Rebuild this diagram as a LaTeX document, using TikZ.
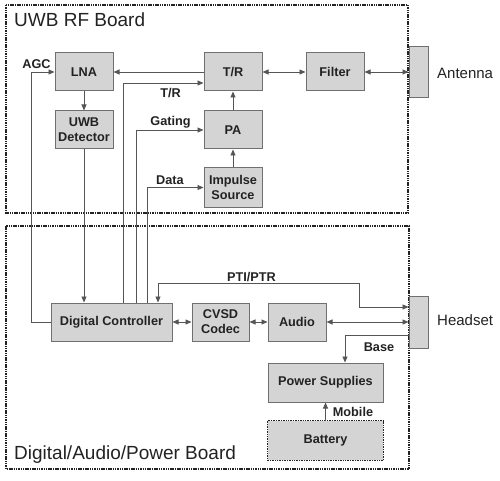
\documentclass[tikz,border=0pt]{standalone}
\usepackage{fontspec}
\setmainfont{Liberation Sans}
\usetikzlibrary{arrows.meta}

\definecolor{cFill}{RGB}{212, 212, 212}
\definecolor{cEdge}{RGB}{112, 112, 112}
\definecolor{cLine}{RGB}{85, 85, 85}
\definecolor{cText}{RGB}{34, 34, 34}

\tikzset{
  blk/.style={draw=cEdge, fill=cFill, line width=1pt, align=center,
    text=cText, font=\fontsize{12.7}{15}\selectfont\bfseries,
    minimum width=58pt, minimum height=38pt, inner sep=1pt},
  lbl/.style={text=cText, font=\fontsize{12.7}{15}\selectfont\bfseries, inner sep=0pt},
  title/.style={text=cText, font=\fontsize{19}{22}\selectfont, inner sep=0pt},
  side/.style={text=cText, font=\fontsize{15}{18}\selectfont, inner sep=0pt},
  board/.style={draw=cText, line width=1.3pt, dash pattern=on 1.5pt off 0.8pt},
  arr/.style={draw=cLine, line width=0.9pt, -{Triangle[length=6pt, width=5pt]}},
  dbl/.style={draw=cLine, line width=0.9pt, {Triangle[length=6pt, width=5pt]}-{Triangle[length=6pt, width=5pt]}},
  wire/.style={draw=cLine, line width=0.9pt}
}

\begin{document}
\begin{tikzpicture}[x=1pt, y=-1pt, line join=miter]
  \useasboundingbox (0,0) rectangle (500,481);

  % boards
  \draw[board] (6,5) rectangle (408,213);
  \draw[board] (6,226) rectangle (409,469);
  \node[title, anchor=base west] (rfTitle) at (14,27) {UWB RF Board};
  \node[title, anchor=base west] (dapTitle) at (14,459) {Digital/Audio/Power Board};

  % RF board blocks
  \node[blk] (LNA) at (84,72) {LNA};
  \node[blk] (Det) at (84,130) {UWB\\Detector};
  \node[blk] (TR) at (233,72) {T/R};
  \node[blk] (PA) at (233,130) {PA};
  \node[blk, minimum height=39pt] (Imp) at (233,187.5) {Impulse\\Source};
  \node[blk] (Filter) at (335,72) {Filter};
  \node[blk, minimum width=19pt, minimum height=51pt] (Ant) at (418.5,72.5) {};
  \node[side, anchor=west] (antTxt) at (437,73) {Antenna};

  % digital/audio/power board blocks
  \node[blk, minimum width=121pt] (DC) at (111.5,322) {Digital Controller};
  \node[blk, minimum width=57pt] (CVSD) at (220.5,322) {CVSD\\Codec};
  \node[blk] (Audio) at (297,322) {Audio};
  \node[blk, minimum width=19pt, minimum height=52pt] (Head) at (418.5,322) {};
  \node[side, anchor=west] (headTxt) at (437,320) {Headset};
  \node[blk, minimum width=115pt, minimum height=39pt] (PS) at (325.5,382.5) {Power Supplies};
  \node[blk, minimum width=115pt, minimum height=39pt, draw=none] (Bat) at (325.5,440.5) {Battery};
  \draw[board, line width=1.1pt, dash pattern=on 1pt off 0.7pt] (Bat.north west) rectangle (Bat.south east);

  % RF connections
  \draw[arr] (TR.west) -- (LNA.east);
  \draw[dbl] (TR.east) -- (Filter.west);
  \draw[dbl] (Filter.east) -- (Ant.west |- Filter.east);
  \draw[arr] (PA.north) -- (TR.south);
  \draw[arr] (Imp.north) -- (PA.south);
  \draw[arr] (LNA.south) -- (Det.north);
  \draw[arr] (Det.south) -- (Det.south |- DC.north);

  % control lines
  \draw[arr] (DC.west) -- ++(-19,0) |- (LNA.west);
  \draw[arr] ([xshift=11.5pt]DC.north) |- ([yshift=-11pt]TR.west);
  \draw[arr] ([xshift=24.5pt]DC.north) |- (PA.west);
  \draw[arr] ([xshift=35.5pt]DC.north) |- (Imp.west);
  \node[lbl] (agcLbl) at (36.5,64) {AGC};
  \node[lbl] (trLbl) at (170.5,93) {T/R};
  \node[lbl] (gateLbl) at (170.5,122) {Gating};
  \node[lbl] (dataLbl) at (170,180) {Data};

  % audio and power
  \draw[dbl] ([xshift=46.5pt]DC.north) |- (359,283) |- ([yshift=15pt]Head.west);
  \draw[dbl] (DC.east) -- (CVSD.west);
  \draw[dbl] (CVSD.east) -- (Audio.west);
  \draw[dbl] (Audio.east) -- (Head.west);
  \draw[arr] ([yshift=-13pt]Head.west) -| ([xshift=19.5pt]PS.north);
  \draw[arr] (Bat.north) -- (PS.south);
  \node[lbl] (ptiLbl) at (251.5,277) {PTI/PTR};
  \node[lbl] (baseLbl) at (379,347) {Base};
  \node[lbl] (mobLbl) at (353,412) {Mobile};
\end{tikzpicture}
\end{document}
